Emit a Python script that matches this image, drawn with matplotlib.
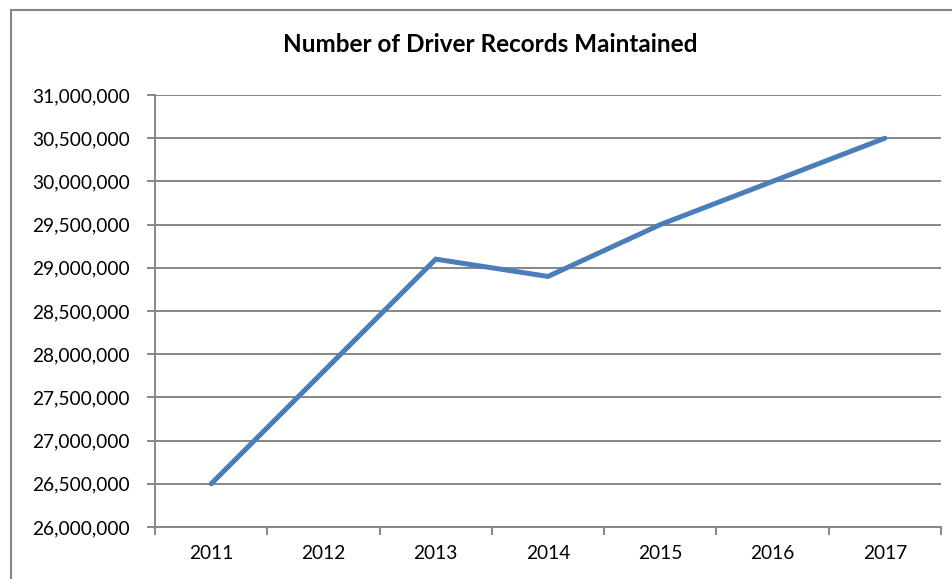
import matplotlib
matplotlib.use("Agg")
import matplotlib.pyplot as plt
from matplotlib.patches import Rectangle
from matplotlib.ticker import FuncFormatter, FixedLocator

years = ["2011", "2012", "2013", "2014", "2015", "2016", "2017"]
records = [26500000, 27800000, 29100000, 28900000, 29500000, 30000000, 30500000]

W, H = 953, 579
fig = plt.figure(figsize=(W / 100, H / 100), dpi=100)
plt.rcParams['font.family'] = ['Lato', 'DejaVu Sans']

gray = '#868686'
ax = fig.add_axes([155 / W, 1 - 527 / H, (941 - 155) / W, (527 - 95) / H])

x = list(range(len(years)))
ax.plot(x, records, color='#4A7EBB', linewidth=3.6, solid_capstyle='round', solid_joinstyle='miter', zorder=3)

ax.set_xlim(-0.5, len(years) - 0.5)
ax.set_ylim(26000000, 31000000)
ax.set_yticks([26000000 + 500000 * i for i in range(11)])
ax.yaxis.set_major_formatter(FuncFormatter(lambda v, p: f"{int(v):,}"))
ax.set_xticks(x)
ax.set_xticklabels(years)
ax.xaxis.set_minor_locator(FixedLocator([i - 0.5 for i in range(len(years) + 1)]))

ax.grid(axis='y', color=gray, linewidth=1.4, zorder=1)
ax.set_axisbelow(True)
for s in ['top', 'right']:
    ax.spines[s].set_visible(False)
for s in ['left', 'bottom']:
    ax.spines[s].set_color(gray)
    ax.spines[s].set_linewidth(1.4)

ax.tick_params(axis='y', which='major', length=6, width=1.4, color=gray, pad=12, labelsize=13.8, labelcolor='black')
ax.tick_params(axis='x', which='major', length=0, pad=13, labelsize=13.8, labelcolor='black')
ax.tick_params(axis='x', which='minor', length=5.5, width=1.4, color=gray)

fig.text(490 / W, 1 - 45 / H, "Number of Driver Records Maintained", ha='center', va='center',
         fontsize=17.5, fontweight='bold', color='black')

border = Rectangle((11 / W, -0.1), 1.2, 1 - 10 / H + 0.1, transform=fig.transFigure,
                   fill=False, edgecolor=gray, linewidth=1.5, clip_on=False)
fig.patches.append(border)

fig.savefig("out.png", dpi=100)
